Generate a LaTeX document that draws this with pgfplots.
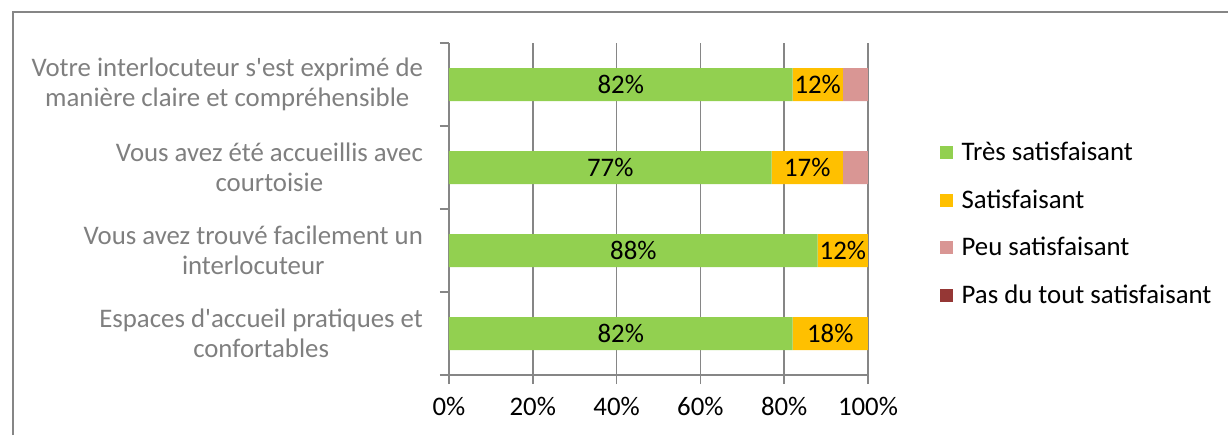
\documentclass[border=0pt]{standalone}
\usepackage{fontspec}
\setmainfont{Carlito}
\usepackage{pgfplots}
\pgfplotsset{compat=1.18}
\definecolor{tres}{HTML}{92D050}
\definecolor{sat}{HTML}{FFC000}
\definecolor{peu}{HTML}{D99694}
\definecolor{pas}{HTML}{953735}
\definecolor{axisgray}{HTML}{868686}
\definecolor{labelgray}{HTML}{7F7F7F}
\newcommand{\lblfont}{\fontsize{13.4}{15}\selectfont}

\begin{document}
\begin{tikzpicture}
\begin{axis}[
  at={(224.5pt,30pt)}, anchor=south west,
  scale only axis, width=209.5pt, height=166pt,
  xbar stacked, bar width=16.5pt,
  xmin=0, xmax=100, ymin=0.5, ymax=4.5,
  axis x line*=bottom, axis y line*=left,
  axis line style={axisgray, line width=0.8pt},
  xmajorgrids, grid style={axisgray, line width=0.8pt},
  tick style={axisgray, line width=0.8pt},
  tick align=outside, major tick length=4.5pt,
  /pgf/number format/assume math mode=true,
  xtick={0,20,...,100},
  xticklabel={\pgfmathprintnumber{\tick}\%},
  xticklabel style={font=\lblfont, yshift=-3pt},
  ytick={0.5,1.5,2.5,3.5,4.5},
  y tick label as interval,
  yticklabels={{Espaces d\textquotesingle accueil pratiques et\\confortables},
               {Vous avez trouvé facilement un\\interlocuteur},
               {Vous avez été accueillis avec\\courtoisie},
               {Votre interlocuteur s\textquotesingle est exprimé de\\manière claire et compréhensible}},
  yticklabel style={align=center, text=labelgray, font=\lblfont, xshift=-5pt},
  legend style={at={(axis description cs:1.17,0.715)}, anchor=north west,
    draw=none, fill=none, inner sep=0pt, row sep=9pt, font=\lblfont},
  legend cell align=left,
  legend image code/.code={\fill[#1] (0pt,-3.25pt) rectangle (6.5pt,3.25pt); \path (9pt,0pt);},
  every node near coord/.append style={font=\lblfont, text=black, anchor=center},
]
\addplot[fill=tres, draw=none, nodes near coords={\pgfmathprintnumber{\pgfplotspointmeta}\%}]
  coordinates {(82,4) (77,3) (88,2) (82,1)};
\addplot[fill=sat, draw=none, nodes near coords={\pgfmathprintnumber{\pgfplotspointmeta}\%}]
  coordinates {(12,4) (17,3) (12,2) (18,1)};
\addplot[fill=peu, draw=none]
  coordinates {(6,4) (6,3) (0,2) (0,1)};
\addplot[fill=pas, draw=none]
  coordinates {(0,4) (0,3) (0,2) (0,1)};
\legend{Très satisfaisant, Satisfaisant, Peu satisfaisant, Pas du tout satisfaisant}
\end{axis}
\draw[axisgray, line width=0.8pt] (6.5pt,0) -- (6.5pt,211.5pt) -- (614pt,211.5pt);
\pgfresetboundingbox
\path[use as bounding box] (0,0) rectangle (614pt,217.5pt);
\end{tikzpicture}
\end{document}
